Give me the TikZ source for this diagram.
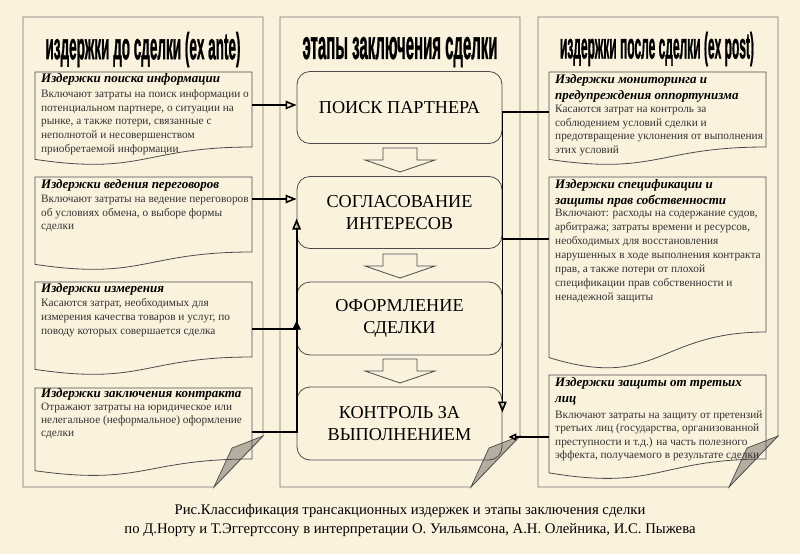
\documentclass[tikz,border=0pt]{standalone}
\usepackage{fontspec}
\usepackage{graphicx}
\setmainfont{Liberation Serif}
\newfontfamily\hdrfont{Liberation Sans}[BoldFeatures={FakeBold=1.5}]
\usetikzlibrary{arrows.meta,calc}
\definecolor{bg}{RGB}{251,242,222}
\definecolor{framecol}{RGB}{115,115,115}
\definecolor{boxcol}{RGB}{75,75,75}
\definecolor{bodytxt}{RGB}{50,50,50}
\definecolor{flapcol}{RGB}{180,174,160}
\newcommand{\ttlfont}{\fontsize{13}{16}\selectfont\bfseries\itshape}
\newcommand{\bdyfont}[1]{\fontsize{11.3}{#1}\selectfont}
\newcommand{\docpath}[4]{%
  \draw[docshape] (#1,#2) -- (#3,#2) -- (#3,{#2+#4})
    .. controls ({(#1+#3)/2},{#2+#4}) and ({(#1+#3)/2},{#2+1.38*#4}) ..
    (#1,{#2+1.165*#4}) -- cycle;}
\newcommand{\framepath}[2]{% x0 x1
  \draw[frame] (#1,17) -- (#2,17) -- (#2,436) -- ({#2-49},487) -- (#1,487) -- cycle;
  \draw[flap] (#2,436) -- ({#2-31},448) -- ({#2-49},487) -- cycle;}
\newcommand{\stagearrow}[1]{%
  \draw[hollow] (383,#1) -- (417,#1) -- (417,{#1+12}) -- (435,{#1+12}) -- (400,{#1+24})
    -- (365,{#1+12}) -- (383,{#1+12}) -- cycle;}
\tikzset{
  frame/.style={draw=framecol, line width=0.8pt},
  docshape/.style={draw=boxcol, line width=0.8pt},
  flap/.style={draw=boxcol, fill=flapcol, line width=0.7pt},
  hollow/.style={draw=boxcol, line width=0.8pt},
  stage/.style={draw=boxcol, line width=0.8pt, rounded corners=13pt,
    minimum width=205pt, minimum height=72pt, inner sep=0pt, align=center,
    font=\fontsize{18.2}{22}\selectfont},
  txt/.style={anchor=base west, inner sep=0pt},
  body/.style={txt, text=bodytxt},
  hdr/.style={inner sep=0pt},
  conn/.style={draw=black, line width=1.8pt},
  openarr/.style={-{Triangle[open,length=11pt,width=8.5pt,line width=1.6pt]}},
  fillarr/.style={-{Triangle[length=9pt,width=8pt]}},
}
\begin{document}
\begin{tikzpicture}[x=1pt,y=-1pt]
\fill[bg] (0,0) rectangle (800,554);
\useasboundingbox (0,0) rectangle (800,554);

% column frames with folded corners
\framepath{23}{263}
\framepath{280}{520}
\framepath{538}{778}

% headers
\node[hdr] (hL) at (143,49.5) {\resizebox*{195pt}{35pt}{\hdrfont\bfseries издержки до сделки (ex ante)}};
\node[hdr] (hM) at (400,52) {\resizebox*{195pt}{30pt}{\hdrfont\bfseries этапы заключения сделки}};
\node[hdr] (hR) at (657,49) {\resizebox*{194pt}{34pt}{\hdrfont\bfseries издержки после сделки (ex post)}};

% left document boxes
\docpath{35}{72}{252}{75}
\docpath{35}{177}{252}{75}
\docpath{35}{282}{252}{75}
\docpath{35}{388}{252}{71}
% right document boxes
\docpath{549}{72}{766}{75}
\docpath{549}{177}{766}{155}
\docpath{549}{375}{766}{84}

% left texts
\node[txt] (L1t) at (41,82) {\ttlfont Издержки поиска информации};
\node[body] (L1) at (41,97.5) {\parbox[t]{215pt}{\bdyfont{13.7}Включают затраты на поиск информации о\\потенциальном партнере, о ситуации на\\рынке, а также потери, связанные с\\неполнотой и несовершенством\\приобретаемой информации}};
\node[txt] (L2t) at (41,188) {\ttlfont Издержки ведения переговоров};
\node[body] (L2) at (41,202.5) {\parbox[t]{215pt}{\bdyfont{13.7}Включают затраты на ведение переговоров\\об условиях обмена, о выборе формы\\сделки}};
\node[txt] (L3t) at (41,292) {\ttlfont Издержки измерения};
\node[body] (L3) at (41,306.5) {\parbox[t]{215pt}{\bdyfont{14}Касаются затрат, необходимых для\\измерения качества товаров и услуг, по\\поводу которых совершается сделка}};
\node[txt] (L4t) at (41,397) {\ttlfont Издержки заключения контракта};
\node[body] (L4) at (41,410.5) {\parbox[t]{215pt}{\bdyfont{13}Отражают затраты на юридическое или\\нелегальное (неформальное) оформление\\сделки}};

% right texts
\node[txt] (R1t) at (555,83) {\parbox[t]{215pt}{\ttlfont Издержки мониторинга и\\предупреждения оппортунизма}};
\node[body] (R1) at (555,112.5) {\parbox[t]{215pt}{\bdyfont{13.7}Касаются затрат на контроль за\\соблюдением условий сделки и\\предотвращение уклонения от выполнения\\этих условий}};
\node[txt] (R2t) at (555,188) {\parbox[t]{215pt}{\ttlfont Издержки спецификации и\\защиты прав собственности}};
\node[body] (R2) at (555,216.5) {\parbox[t]{215pt}{\bdyfont{14}Включают: расходы на содержание судов,\\арбитража; затраты времени и ресурсов,\\необходимых для восстановления\\нарушенных в ходе выполнения контракта\\прав, а также потери от плохой\\спецификации прав собственности и\\ненадежной защиты}};
\node[txt] (R3t) at (555,386) {\parbox[t]{215pt}{\ttlfont Издержки защиты от третьих\\лиц}};
\node[body] (R3) at (555,418.5) {\parbox[t]{215pt}{\bdyfont{13.3}Включают затраты на защиту от претензий\\третьих лиц (государства, организованной\\преступности и т.д.) на часть полезного\\эффекта, получаемого в результате сделки}};

% stages
\node[stage] (A) at (399.5,107.5) {ПОИСК ПАРТНЕРА};
\node[stage] (B) at (399.5,212.5) {СОГЛАСОВАНИЕ\\ИНТЕРЕСОВ};
\node[stage, minimum height=73pt] (C) at (399.5,318.5) {ОФОРМЛЕНИЕ\\СДЕЛКИ};
\node[stage, minimum height=73pt] (D) at (399.5,423.5) {КОНТРОЛЬ ЗА\\ВЫПОЛНЕНИЕМ};
\stagearrow{148}
\stagearrow{254}
\stagearrow{359}

% connector points
\coordinate (p1) at (252,105);
\coordinate (p2) at (252,199);
\coordinate (p3) at (252,329);
\coordinate (p4) at (252,432);
\coordinate (q1) at (549,112);
\coordinate (q2) at (549,239);
\coordinate (q3) at (549,437);
\coordinate (tB) at ($(B.west)+(0,6)$);
\coordinate (tC) at ($(C.west)+(0,2)$);
\coordinate (tD) at ($(D.east)+(0,-11)$);
\coordinate (tD3) at ($(D.east)+(6,13.5)$);

% connectors
\draw[conn,openarr] (p1) -- (p1 -| A.west);
\draw[conn,openarr] (p2) -- (p2 -| B.west);
\draw[conn,openarr] (p4) -| (tB);
\draw[conn,fillarr] (p3) -| (tC);
\draw[conn] (q2) -- (q2 -| D.east);
\draw[conn,openarr] (q1) -| (tD);
\draw[conn,-{Triangle[open,length=8pt,width=7pt,line width=1.5pt]}] (q3) -- (tD3);

% caption
\node[align=center, inner sep=0pt, font=\fontsize{14.7}{19}\selectfont] (cap) at (410,520)
  {Рис.Классификация трансакционных издержек и этапы заключения сделки\\по Д.Норту и Т.Эггертссону в интерпретации О. Уильямсона, А.Н. Олейника, И.С. Пыжева};
\end{tikzpicture}
\end{document}
